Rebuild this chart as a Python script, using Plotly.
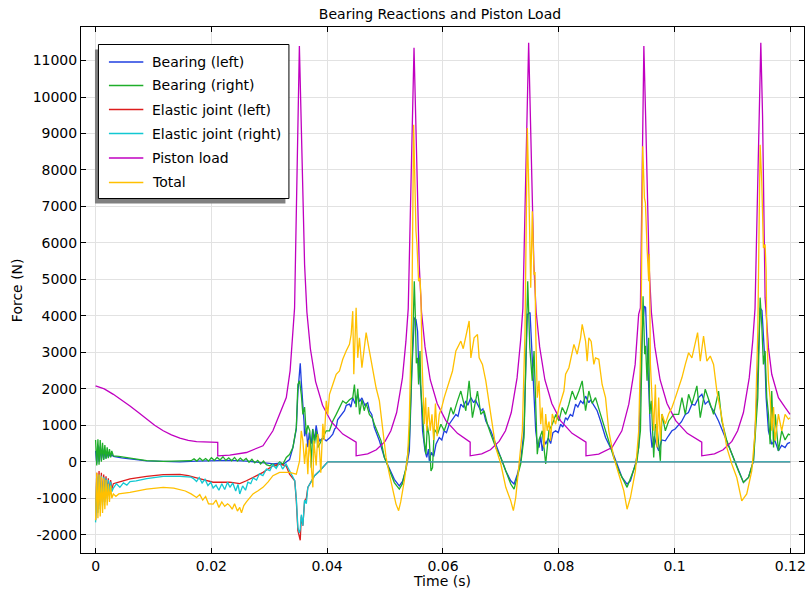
import plotly.graph_objects as go

# ---------------- data (time in ms, force in N) ----------------
t_left = [0,0.2,0.4,0.6,0.8,1.0,1.2,1.4,1.6,1.8,2.0,2.2,2.4,2.6,2.8,3.07,4.5,5.94,7.4,8.82,11.68,14.56,17.44,20.3,23.17,26.05,28.91,30.07,30.63,31.8,32.4,32.94,33.5,34.08,34.67,34.94,35.2,35.35,35.53,35.8,36.0,36.1,36.4,36.66,36.9,37.25,37.5,37.82,38.1,38.4,38.68,39.25,39.84,40.4,40.97,41.3,41.56,41.8,42.12,42.5,42.99,43.3,43.85,44.1,44.42,44.8,45.28,45.6,46.0,46.5,47.0,47.3,47.7,48.15,49.02,49.88,50.74,51.6,52.46,53.0,53.62,54.19,54.65,55.05,55.34,55.62,55.79,56.2,56.48,56.9,57.2,57.5,57.63,58.0,58.4,58.79,59.36,59.8,60.21,60.6,61.08,61.6,62.23,62.6,63.09,63.5,63.95,64.3,64.82,65.3,65.6,65.96,66.54,66.9,67.4,68.26,69.12,69.99,70.85,71.71,72.28,72.85,73.43,74.0,74.57,75.04,75.33,75.73,76.02,76.3,76.59,76.9,77.15,77.5,77.74,78.2,78.6,79.0,79.46,79.9,80.32,80.7,81.18,81.5,82.0,82.4,82.91,83.3,83.77,84.2,84.63,85.2,85.5,85.77,86.2,86.63,87.22,88.08,89.21,90.09,90.94,91.8,92.38,93.24,93.81,94.38,94.8,95.0,95.25,95.54,95.83,96.11,96.5,96.9,97.26,97.8,98.41,98.9,99.55,100.1,100.71,101.2,101.86,102.4,103.0,103.5,104.15,104.72,105.3,105.87,106.3,106.74,107.6,108.75,109.89,111.04,111.9,112.77,113.63,114.21,114.78,115.1,115.64,115.82,116.22,116.79,117.3,117.94,118.5,119.09,119.5,119.95]
f_left = [300,-50,450,0,420,40,360,70,310,100,260,120,230,140,200,150,110,80,50,27,10,0,20,40,40,20,-10,-40,-60,-40,-70,-10,60,390,900,1900,2300,2700,2200,1670,1100,700,900,400,800,500,900,600,1000,700,575,650,575,650,760,900,940,1150,1210,1300,1400,1550,1580,1500,1760,1600,1850,1650,1750,1550,1620,1400,1300,940,575,120,-200,-480,-660,-540,-200,300,2580,3950,3900,3580,2680,1940,850,300,120,350,27,260,150,480,665,600,850,800,1030,1150,1300,1250,1580,1500,1670,1550,1760,1620,1700,1580,1400,1450,1120,850,480,120,-250,-520,-610,-340,27,850,4040,4090,3130,2220,850,500,390,700,300,600,480,650,500,800,850,800,1030,950,1210,1150,1300,1250,1580,1500,1670,1600,1800,1620,1700,1620,1500,1400,1120,665,300,-60,-430,-610,-520,-60,390,3580,4270,4230,3130,1760,850,390,700,450,300,600,575,700,850,900,1030,1100,1300,1350,1580,1550,1760,1850,1580,1670,1500,1400,1120,665,210,-250,-565,-430,27,1760,4220,4150,2670,1760,850,480,600,300,450,390,500,530]

t_right = [0,0.2,0.4,0.6,0.8,1.0,1.2,1.4,1.6,1.8,2.0,2.2,2.4,2.6,2.8,3.07,4.0,5.94,8.82,11.68,14.56,16.5,17.0,17.5,18.0,18.5,19.0,19.5,20.0,20.5,21.0,21.5,22.0,22.5,23.0,23.5,24.0,24.5,25.0,25.5,26.0,26.5,27.0,27.5,28.0,28.5,29.0,29.5,30.07,30.6,31.2,31.8,32.36,32.94,33.5,34.08,34.67,34.94,35.23,35.53,35.8,36.1,36.39,36.66,37.0,37.25,37.5,37.82,38.1,38.4,38.68,39.25,39.84,40.4,40.97,41.56,42.12,42.69,43.28,43.85,44.42,44.71,45.0,45.28,45.6,46.0,46.4,46.73,47.29,47.8,48.15,48.7,49.31,49.88,50.74,51.6,52.46,53.0,53.62,54.19,54.76,55.05,55.22,55.4,55.62,55.79,56.03,56.2,56.48,56.77,57.06,57.3,57.6,57.93,58.2,58.5,59.06,59.65,60.21,60.79,61.37,61.8,62.51,63.09,63.5,63.95,64.52,65.09,65.96,66.54,67.1,67.68,68.26,69.12,69.99,70.85,71.71,72.28,72.85,73.43,74.0,74.4,74.64,75.0,75.3,75.43,75.73,76.02,76.29,76.59,77.15,77.74,78.3,78.88,79.5,80.03,80.6,81.2,81.75,82.32,82.9,83.5,84.05,84.63,85.2,85.77,86.35,87.22,88.08,88.64,89.5,90.37,91.23,91.8,92.66,93.52,94.11,94.56,94.85,95.0,95.25,95.54,95.71,96.0,96.4,96.69,97.0,97.55,97.83,98.41,98.98,99.85,100.71,101.28,101.86,102.43,103.0,103.86,104.44,105.3,106.17,106.74,107.6,108.17,109.03,109.89,111.04,111.9,112.77,113.63,114.38,114.78,115.06,115.35,115.64,115.93,116.22,116.51,116.79,117.1,117.4,117.94,118.51,119.09,119.66,119.95]
f_right = [600,-100,620,-80,600,0,520,50,460,80,400,100,350,120,300,160,150,100,30,10,20,30,80,20,100,30,90,20,110,40,120,50,140,40,110,30,120,20,100,30,90,-10,70,-30,40,-60,20,-80,-110,-60,-120,0,-60,120,200,390,940,2120,2220,1850,1300,1500,760,1000,850,-160,900,500,850,390,480,665,850,850,1120,1300,1480,1670,1600,1700,1760,2120,1500,2000,1300,1700,1400,1600,1300,1200,1030,800,575,120,-250,-570,-750,-600,-160,575,3220,4950,4040,2700,2850,2120,3040,1940,1300,575,210,1000,700,-250,-160,900,760,1030,850,1120,1490,1300,1670,1940,1670,1400,2220,1210,1940,1300,1400,1030,760,390,120,-250,-610,-750,-430,-60,665,3580,4950,3130,2500,2220,3040,1760,210,600,850,-60,850,1030,1300,1120,1490,1300,1580,1940,1700,1950,2220,1400,1940,1600,1760,1300,850,575,120,-250,-520,-700,-340,27,850,4540,2950,3180,2220,3400,1310,1670,120,1030,900,27,1310,850,1120,1300,1300,1760,1300,1850,1580,2080,1210,1990,1580,1300,1940,1120,575,210,-250,-565,-430,27,1760,4500,3770,2670,3040,1760,1310,480,1940,390,1300,300,850,600,760,740]

t_ejl = [0,0.2,0.4,0.6,0.8,1.0,1.2,1.4,1.6,1.8,2.0,2.2,2.4,2.6,2.8,3.07,4.0,5.94,8.82,11.68,14.56,16.0,17.44,20.3,23.17,24.9,26.05,27.2,28.91,30.63,31.8,32.9,33.5,34.4,34.67,34.94,35.35,35.53,35.8,36.1,36.4,36.66,37.25,37.82,38.68,39.25,39.84,40.11,120.0]
f_ejl = [-1600,-300,-1300,-250,-1200,-300,-1100,-350,-1000,-400,-900,-450,-850,-500,-750,-600,-560,-470,-400,-350,-345,-380,-440,-560,-560,-600,-520,-420,-290,-110,-60,-110,-340,-520,-1070,-1890,-2150,-1500,-1750,-1070,-1000,-700,-520,-380,-250,-160,-40,0,0]

t_ejr = [0,0.2,0.4,0.6,0.8,1.0,1.2,1.4,1.6,1.8,2.0,2.2,2.4,2.6,2.8,3.07,3.6,4.2,4.8,5.4,5.94,7.0,8.82,11.68,14.56,16.5,17.0,17.44,17.9,18.4,18.9,19.4,19.9,20.3,20.8,21.3,21.8,22.3,22.8,23.2,23.7,24.2,24.6,24.9,25.4,25.9,26.3,26.8,27.2,27.8,28.3,28.9,29.5,30.1,30.6,31.2,31.8,32.3,32.9,33.5,34.0,34.4,34.67,34.94,35.2,35.35,35.53,35.8,36.1,36.4,36.66,37.25,37.82,38.68,39.25,39.84,40.11,120.0]
f_ejr = [-1660,-400,-1400,-350,-1300,-380,-1200,-420,-1100,-450,-1000,-500,-900,-550,-820,-720,-600,-700,-580,-640,-540,-520,-460,-400,-400,-420,-470,-540,-430,-580,-480,-650,-560,-720,-640,-780,-600,-760,-560,-700,-580,-800,-620,-880,-660,-780,-560,-600,-440,-500,-330,-380,-200,-240,-80,-180,-20,-200,-60,-260,-380,-520,-1000,-1800,-1950,-1850,-1450,-1750,-1050,-1150,-700,-520,-380,-250,-160,-40,0,0]

t_piston = [0,1.5,3.07,4.5,5.94,7.4,8.82,10.2,11.68,13.1,14.56,16.0,17.44,19.3,21.1,21.1,23.17,26.05,28.91,30.63,31.79,32.94,33.6,34.08,34.37,35.2,35.5,35.8,36.1,36.5,37.1,38.0,39.2,40.7,42.7,45.0,45.0,47.0,48.5,50.0,51.0,52.0,53.0,53.6,54.0,55.0,55.3,55.6,55.9,56.3,56.9,57.8,59.0,60.5,62.5,64.7,64.7,66.7,68.2,69.7,70.8,71.8,72.8,73.4,73.8,74.8,75.1,75.4,75.7,76.1,76.7,77.6,78.8,80.3,82.3,84.7,84.7,86.9,89.2,90.9,92.1,93.2,93.8,94.1,94.7,95.0,95.3,95.6,96.0,96.6,97.5,98.7,100.2,102.2,104.7,104.7,106.9,108.4,109.9,110.9,111.9,112.9,113.5,113.9,114.9,115.2,115.64,116.22,116.79,117.94,119.09,119.95]
f_piston = [2080,2000,1850,1700,1530,1350,1170,1000,850,740,650,590,555,535,530,165,183,255,440,850,1310,1760,2500,3580,4220,11400,9500,7200,5400,4100,3100,2200,1550,1100,760,540,165,215,330,560,850,1350,2300,3300,4200,11350,9500,7300,5400,4100,3150,2250,1600,1130,780,540,165,215,330,560,850,1350,2300,3300,4200,11490,9500,7300,5400,4100,3150,2250,1600,1130,780,540,165,210,390,850,1580,2670,4040,4220,11400,9500,7300,5400,4100,3150,2250,1600,1130,780,540,165,215,330,560,850,1350,2300,3300,4200,11490,9500,4500,3130,2400,1760,1490,1300]

t_total = [0,0.2,0.4,0.6,0.8,1.0,1.2,1.4,1.6,1.8,2.0,2.2,2.4,2.6,2.8,3.07,3.5,4.0,5.94,8.82,11.68,13.5,15.5,16.5,17.44,18.0,18.5,19.0,19.5,20.3,20.8,21.3,21.8,22.3,22.8,23.17,23.6,24.0,24.5,24.9,25.2,25.6,26.05,26.5,27.19,28.0,28.91,29.8,30.63,31.79,32.9,33.51,34.67,35.23,35.53,35.8,36.1,36.4,36.66,36.9,37.1,37.25,37.53,37.7,38.1,38.39,38.68,38.9,39.25,39.5,39.84,40.11,40.4,40.97,41.56,42.12,42.69,43.28,43.85,44.14,44.42,44.6,45.0,45.28,45.57,46.0,46.73,47.29,47.8,48.45,49.02,49.59,50.17,50.74,51.31,51.89,52.34,52.7,53.32,53.89,54.19,54.65,54.93,55.22,55.34,55.51,55.79,56.03,56.2,56.4,56.6,56.77,57.0,57.2,57.5,57.8,58.1,58.4,58.7,59.0,59.36,59.8,60.21,61.08,61.65,62.23,63.09,63.5,64.52,64.82,65.38,65.96,66.25,66.82,67.4,68.26,69.12,69.99,70.85,71.71,72.16,72.57,73.14,73.71,74.17,74.57,74.86,75.16,75.43,75.73,75.9,76.02,76.29,76.59,76.88,77.15,77.45,77.74,78.0,78.31,78.6,78.88,79.46,80.03,80.89,81.18,81.75,82.32,82.62,83.18,83.77,84.05,84.63,84.91,85.2,85.6,86.06,86.35,86.92,87.49,88.08,88.64,89.51,90.37,91.23,91.8,92.38,93.24,93.81,94.21,94.5,94.8,94.97,95.25,95.54,95.65,95.83,96.11,96.4,96.69,96.97,97.26,97.55,97.83,98.41,98.98,99.55,100.14,100.71,101.28,101.86,102.43,103.0,103.58,103.98,104.44,105.01,105.58,106.17,106.74,107.31,108.17,109.03,109.89,110.75,111.61,112.47,113.34,113.92,114.38,114.78,115.06,115.35,115.64,115.82,115.93,116.22,116.51,116.79,117.1,117.37,117.94,118.51,119.09,119.66,119.95]
f_total = [-1600,-300,-1550,-350,-1500,-400,-1400,-450,-1300,-500,-1200,-600,-1100,-650,-1000,-880,-950,-880,-840,-750,-700,-720,-800,-880,-980,-900,-1050,-950,-1150,-1160,-1050,-1250,-1100,-1220,-1150,-1200,-1300,-1150,-1350,-1250,-1400,-1200,-1100,-1000,-880,-800,-700,-550,-380,-290,-300,-290,-340,27,850,580,-60,500,-340,600,200,-100,-700,580,-100,760,300,-300,1040,600,1670,1300,1850,2120,2400,2490,2810,3040,3220,3490,4130,2400,4220,2850,3400,2580,3540,3040,2580,2030,1670,940,120,-340,-790,-1160,-1340,-1100,-520,120,1210,4400,9240,6590,6320,5960,4950,5040,4500,2680,1760,1030,1760,850,1500,850,1300,600,1600,700,1300,1500,1760,2220,2490,3040,3310,3100,3860,2850,3400,3490,2850,2670,2220,1300,390,-60,-700,-1070,-1340,-980,-60,850,3580,9150,7230,4770,6870,5130,5200,3580,1760,2220,1030,1490,390,1310,850,1100,575,1310,1030,1490,1940,2400,2580,3040,3220,2950,3400,3770,3310,2760,3400,3300,2670,2850,2810,2120,1760,850,120,-340,-790,-1300,-980,-250,850,3580,8650,7230,7100,5860,4950,5700,2680,1760,850,2120,390,1760,575,1310,1040,1310,1490,1760,2030,2310,2670,2990,2850,3220,3540,2760,3450,2760,2900,2670,1940,1210,390,-60,-430,-1070,-880,-250,850,3580,8690,7690,5860,5960,5230,3580,2220,1760,850,1500,575,1310,850,1300,1170,1210]

series_names = ["Bearing (left)", "Bearing (right)", "Elastic joint (left)",
                "Elastic joint (right)", "Piston load", "Total"]
series_colors = ["#1f3fe0", "#1fae2a", "#dd1c1c", "#12c8d2", "#c000c0", "#ffc000"]

x_tick_vals = [0, 0.02, 0.04, 0.06, 0.08, 0.1, 0.12]
x_tick_text = ["0", "0.02", "0.04", "0.06", "0.08", "0.1", "0.12"]
y_tick_vals = list(range(-2000, 12000, 1000))
y_tick_text = [str(v) for v in y_tick_vals]

# ---------------- figure ----------------
W, H = 808, 594
L, R, T, B = 81, 806, 27, 553  # plot area in pixels
FONT = "DejaVu Sans"

def px(x):
    return (x - L) / (R - L)

def py(y):
    return (B - y) / (B - T)

times = [t_left, t_right, t_ejl, t_ejr, t_piston, t_total]
forces = [f_left, f_right, f_ejl, f_ejr, f_piston, f_total]

fig = go.Figure()
for name, col, tt, ff in zip(series_names, series_colors, times, forces):
    fig.add_trace(go.Scatter(
        x=[t / 1000.0 for t in tt], y=ff, mode="lines", name=name,
        line=dict(color=col, width=1.3), showlegend=False))

axis_common = dict(
    showline=True, linecolor="black", linewidth=1, mirror="ticks",
    ticks="inside", ticklen=5, tickwidth=1, tickcolor="black",
    showgrid=True, gridcolor="#e2e2e2", gridwidth=1, zeroline=False,
    tickfont=dict(family=FONT, size=14, color="black"),
)
fig.update_xaxes(range=[-0.00252, 0.12236], tickvals=x_tick_vals,
                 ticktext=x_tick_text, **axis_common)
fig.update_yaxes(range=[-2500, 11920], tickvals=y_tick_vals,
                 ticktext=y_tick_text, **axis_common)

shapes = []
annotations = []
# legend shadow and box
shapes.append(dict(type="rect", xref="paper", yref="paper",
                   x0=px(95), x1=px(286), y0=py(203.5), y1=py(49.5),
                   fillcolor="#808080", line=dict(width=0), layer="above"))
shapes.append(dict(type="rect", xref="paper", yref="paper",
                   x0=px(98.5), x1=px(289.5), y0=py(198.5), y1=py(44.5),
                   fillcolor="white", line=dict(color="black", width=1), layer="above"))
rows = [62, 85.5, 109.5, 133.5, 158, 182.5]
for name, col, ry in zip(series_names, series_colors, rows):
    shapes.append(dict(type="line", xref="paper", yref="paper",
                       x0=px(109), x1=px(143.5), y0=py(ry), y1=py(ry),
                       line=dict(color=col, width=1.5), layer="above"))
    annotations.append(dict(text=name, xref="paper", yref="paper",
                            x=px(150), y=py(ry), xanchor="left", yanchor="middle",
                            showarrow=False, font=dict(family=FONT, size=14, color="black")))

annotations.append(dict(text="Time (s)", xref="paper", yref="paper",
                        x=px(443), y=py(581), xanchor="center", yanchor="middle",
                        showarrow=False, font=dict(family=FONT, size=14, color="black")))
annotations.append(dict(text="Force (N)", xref="paper", yref="paper",
                        x=px(17), y=py(290), xanchor="center", yanchor="middle",
                        textangle=-90, showarrow=False,
                        font=dict(family=FONT, size=14, color="black")))

fig.update_layout(
    width=W, height=H,
    margin=dict(l=L, r=W - R, t=T, b=H - B, pad=0),
    paper_bgcolor="white", plot_bgcolor="white",
    title=dict(text="Bearing Reactions and Piston Load", x=px(441), xref="paper",
               xanchor="center", y=1 - 14 / H, yanchor="middle",
               font=dict(family=FONT, size=14, color="black")),
    shapes=shapes, annotations=annotations, showlegend=False,
)

fig.write_html("out.html")
